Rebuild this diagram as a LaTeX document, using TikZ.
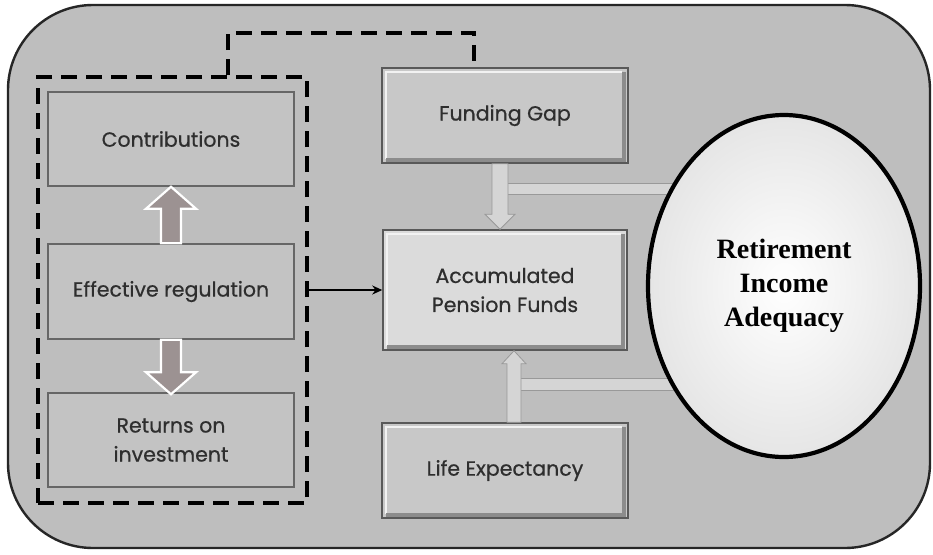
\documentclass[tikz,border=0pt]{standalone}
\usepackage{fontspec}
\setmainfont{Liberation Serif}
\newfontfamily\boxfont{Poppins}[FakeBold=0.6]
\usetikzlibrary{calc,arrows.meta,shapes.geometric}
\definecolor{framegray}{HTML}{BEBEBE}
\definecolor{leftbox}{HTML}{C3C3C3}
\definecolor{midbox}{HTML}{C8C8C8}
\definecolor{accbox}{HTML}{DBDBDB}
\definecolor{txtgray}{HTML}{2E2E2E}
\definecolor{barfill}{HTML}{D5D5D5}
\definecolor{arrowin}{HTML}{9C9292}
\tikzset{
  lbox/.style={draw=black!60, line width=1.5pt, fill=leftbox, minimum width=246pt,
    minimum height=94pt, align=center, text=txtgray, font=\boxfont\fontsize{20.5}{29}\selectfont},
  bevelbox/.style={draw=black!65, line width=1.5pt, fill=#1, minimum width=246pt,
    minimum height=95pt, align=center, text=txtgray, font=\boxfont\fontsize{20.5}{29}\selectfont,
    path picture={
      \draw[white!95!black, line width=2pt]
        ([xshift=4pt,yshift=4pt]path picture bounding box.south west) --
        ([xshift=4pt,yshift=-4pt]path picture bounding box.north west) --
        ([xshift=-6pt,yshift=-4pt]path picture bounding box.north east);
      \draw[black!45, line width=4pt]
        ([xshift=-4pt,yshift=-4pt]path picture bounding box.north east) --
        ([xshift=-4pt,yshift=3pt]path picture bounding box.south east) --
        ([xshift=4pt,yshift=3pt]path picture bounding box.south west);
    }},
  dashframe/.style={draw=black, line width=3.8pt, dash pattern=on 16pt off 9pt},
  blkleft/.style={fill=arrowin, draw=white, line width=2.2pt, line join=miter},
  blkmid/.style={fill=barfill, draw=black!40, line width=0.8pt},
}
\begin{document}
\begin{tikzpicture}[x=1pt,y=-1pt]
\useasboundingbox (0,0) rectangle (933,554);
\fill[white] (0,0) rectangle (933,554);
% outer frame
\draw[fill=framegray, draw=black!85, line width=2.4pt, rounded corners=85pt] (8,5) rectangle (930,548);

% dashed group
\node[dashframe, minimum width=269pt, minimum height=426pt, inner sep=0pt] (dbox) at (172.5,290) {};
\node[lbox] (contr) at (171,139) {Contributions};
\node[lbox, minimum height=95pt] (eff) at (171,291.5) {Effective regulation};
\node[lbox] (ret) at (171,440) {Returns on\\investment};

% centre boxes
\node[bevelbox=midbox] (fund) at (505,115.5) {Funding Gap};
\node[bevelbox=accbox, minimum width=244pt, minimum height=120pt] (acc) at (505,290) {Accumulated\\Pension Funds};
\node[bevelbox=midbox] (life) at (505,470.5) {Life Expectancy};

% dashed connector
\coordinate (dc1) at (228,33);
\coordinate (dc2) at (474,33);
\draw[dashframe] (dc1 |- dbox.north) -- (dc1) -- (dc2) -- (dc2 |- fund.north);

% solid arrow
\draw[line width=2.8pt, -{Stealth[length=10pt,width=9pt]}] (dbox.east) -- (acc.west);

% block arrows left
\draw[blkleft] ($(eff.north)+(-10,0)$) -- ($(contr.south)+(-10,22)$) -- ($(contr.south)+(-25,22)$)
  -- (contr.south) -- ($(contr.south)+(25,22)$) -- ($(contr.south)+(10,22)$) -- ($(eff.north)+(10,0)$) -- cycle;
\draw[blkleft] ($(eff.south)+(-10,0)$) -- ($(ret.north)+(-10,-20)$) -- ($(ret.north)+(-25,-20)$)
  -- ($(ret.north)+(0,2)$) -- ($(ret.north)+(25,-20)$) -- ($(ret.north)+(10,-20)$) -- ($(eff.south)+(10,0)$) -- cycle;

% ellipse and bars
\coordinate (bar1a) at (506,183);
\coordinate (bar1b) at (705,194);
\coordinate (bar2a) at (519,378);
\coordinate (bar2b) at (705,390);
\draw[blkmid] (bar1a) rectangle (bar1b);
\draw[blkmid] (bar2a) rectangle (bar2b);

% middle block arrows
\draw[blkmid] ($(fund.south)+(-13,0)$) -- ($(acc.north)+(-13,-15)$) -- ($(acc.north)+(-20,-15)$)
  -- ($(acc.north)+(-5,0)$) -- ($(acc.north)+(10,-15)$) -- ($(acc.north)+(3,-15)$) -- ($(fund.south)+(3,0)$) -- cycle;
\draw[blkmid] ($(life.north)+(2,0)$) -- ($(acc.south)+(2,13)$) -- ($(acc.south)+(-3,13)$)
  -- ($(acc.south)+(9,0)$) -- ($(acc.south)+(21,13)$) -- ($(acc.south)+(16,13)$) -- ($(life.north)+(16,0)$) -- cycle;

\node[ellipse, minimum width=272pt, minimum height=342pt, inner sep=0pt,
      draw=black, line width=4.2pt, inner color=white, outer color=black!10,
      align=center, font=\bfseries\fontsize{28}{34}\selectfont] (ell) at (784,286)
      {Retirement\\Income\\Adequacy};
\end{tikzpicture}
\end{document}
